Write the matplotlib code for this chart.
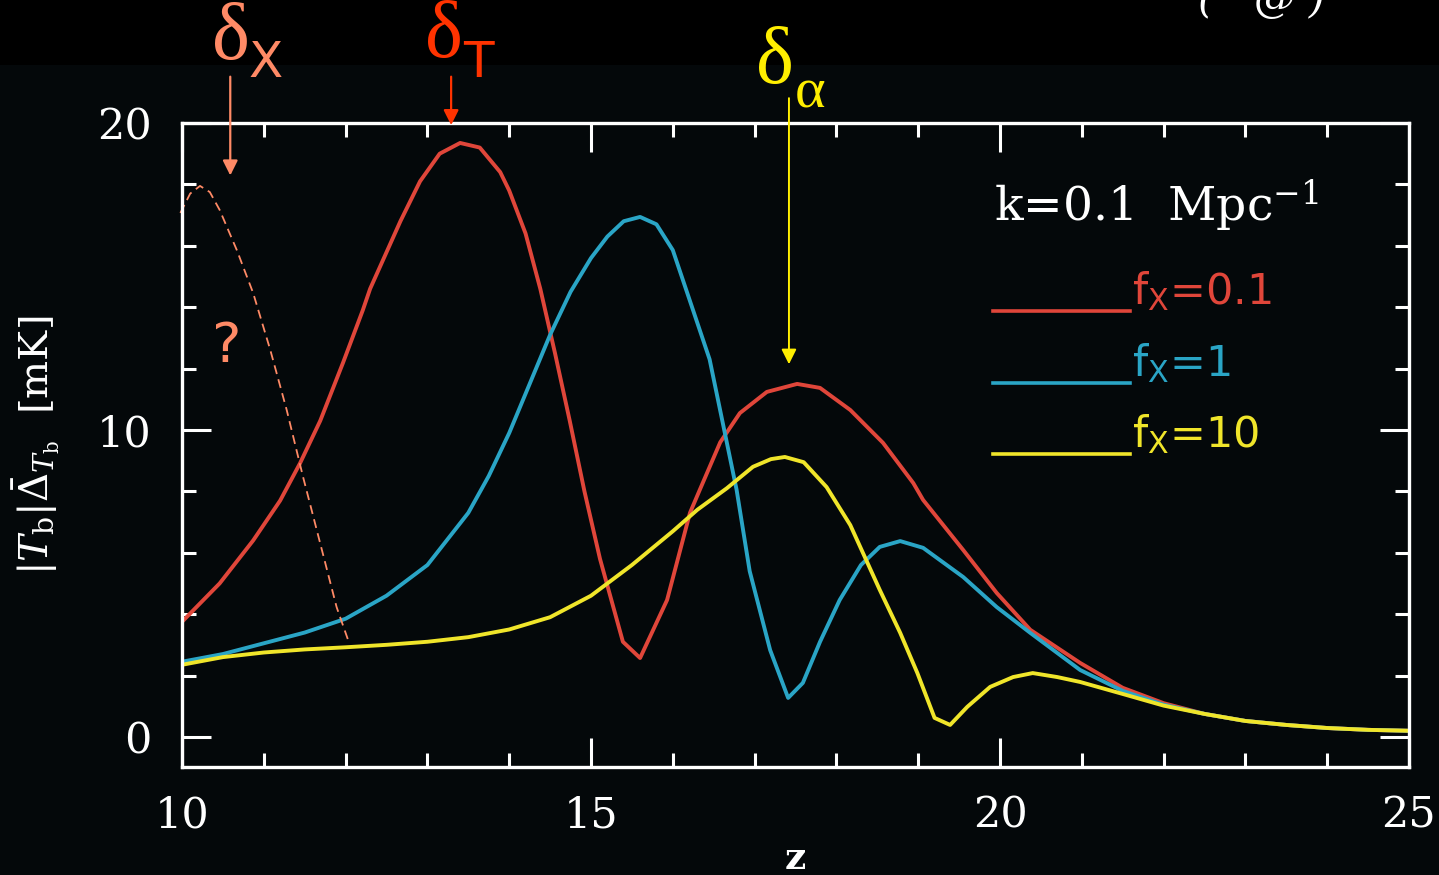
import matplotlib
matplotlib.use("Agg")
import matplotlib.pyplot as plt
from matplotlib.ticker import MultipleLocator
from matplotlib.patches import Rectangle

plt.rcParams['mathtext.fontset'] = 'dejavuserif'

# fx = 0.1 (red)
z_red = [10.0, 10.46, 10.87, 11.2, 11.44, 11.69, 11.97, 12.21, 12.3, 12.67, 12.91,
         13.15, 13.4, 13.64, 13.89, 14.0, 14.2, 14.38, 14.56, 14.74, 14.92, 15.11, 15.39,
         15.6, 15.93, 16.21, 16.33, 16.58, 16.82, 17.15, 17.52, 17.8, 18.17, 18.57,
         18.94, 19.06, 19.55, 19.96, 20.37, 20.98, 21.5, 22.0, 22.5, 23.0, 23.5,
         24.0, 24.5, 25.0]
t_red = [3.75, 5.0, 6.4, 7.7, 8.9, 10.3, 12.2, 13.9, 14.6, 16.8, 18.1,
         19.0, 19.35, 19.2, 18.4, 17.8, 16.4, 14.6, 12.5, 10.3, 8.0, 5.8, 3.1,
         2.57, 4.46, 7.3, 8.05, 9.6, 10.55, 11.24, 11.5, 11.37, 10.65, 9.58,
         8.27, 7.72, 6.09, 4.69, 3.49, 2.41, 1.6, 1.1, 0.75, 0.52, 0.39,
         0.29, 0.23, 0.2]

# fx = 1 (blue)
z_blue = [10.0, 10.5, 11.0, 11.5, 12.0, 12.5, 13.0, 13.5, 13.75, 14.0, 14.25, 14.5,
          14.75, 15.0, 15.2, 15.4, 15.6, 15.8, 16.0, 16.21, 16.45, 16.78, 16.94,
          17.19, 17.41, 17.59, 17.8, 18.04, 18.3, 18.53, 18.78, 19.06, 19.55, 19.96,
          20.37, 20.98, 21.5, 22.0, 22.5, 23.0, 23.5, 24.0, 24.5, 25.0]
t_blue = [2.45, 2.7, 3.05, 3.4, 3.85, 4.6, 5.6, 7.3, 8.5, 9.9, 11.5, 13.1,
          14.5, 15.6, 16.3, 16.8, 16.94, 16.7, 15.86, 14.2, 12.3, 8.05, 5.4,
          2.83, 1.27, 1.76, 3.1, 4.46, 5.6, 6.19, 6.38, 6.16, 5.21, 4.23,
          3.39, 2.18, 1.5, 1.05, 0.75, 0.52, 0.39, 0.29, 0.23, 0.2]

# fx = 10 (yellow)
z_yel = [10.0, 10.5, 11.0, 11.5, 12.0, 12.5, 13.0, 13.5, 14.0, 14.5, 15.0, 15.5,
         16.0, 16.3, 16.66, 16.98, 17.2, 17.37, 17.6, 17.88, 18.17, 18.53, 18.78, 18.99,
         19.2, 19.39, 19.6, 19.88, 20.16, 20.4, 20.7, 20.98, 21.5, 22.0, 22.5,
         23.0, 23.5, 24.0, 24.5, 25.0]
t_yel = [2.35, 2.6, 2.75, 2.85, 2.92, 3.0, 3.1, 3.25, 3.5, 3.9, 4.6, 5.6,
         6.7, 7.4, 8.1, 8.8, 9.05, 9.12, 8.95, 8.14, 6.9, 4.79, 3.39, 2.08,
         0.62, 0.39, 0.98, 1.63, 1.95, 2.08, 1.95, 1.79, 1.4, 1.02, 0.75,
         0.52, 0.39, 0.29, 0.23, 0.2]

# speculative delta_x curve (dashed)
z_dx = [9.98, 10.1, 10.22, 10.34, 10.46, 10.67, 10.87, 11.08, 11.28, 11.48, 11.69, 11.89, 12.03]
t_dx = [17.07, 17.7, 17.95, 17.75, 17.17, 15.86, 14.46, 12.6, 10.65, 8.47, 6.3, 4.23, 3.16]

labels = ['0.1', '1', '10']
colors = ['#e0463a', '#2aa5c6', '#f0e52a']
bg = '#04080a'
salmon = '#ff8a66'

fig = plt.figure(figsize=(14.39, 8.75), dpi=100, facecolor=bg)
fig.add_artist(Rectangle((0, 1 - 65/875), 1, 65/875, transform=fig.transFigure,
                         facecolor='black', edgecolor='none', zorder=0))
ax = fig.add_axes([182/1439, 108/875, 1227/1439, 644/875])
ax.set_facecolor(bg)

for z, t, c in zip([z_red, z_blue, z_yel], [t_red, t_blue, t_yel], colors):
    ax.plot(z, t, color=c, lw=2.8)
ax.plot(z_dx, t_dx, color=salmon, lw=1.3, ls=(0, (5, 3)), clip_on=False)

ax.set_xlim(10, 25)
ax.set_ylim(-0.98, 20)
ax.xaxis.set_major_locator(MultipleLocator(5))
ax.xaxis.set_minor_locator(MultipleLocator(1))
ax.yaxis.set_major_locator(MultipleLocator(10))
ax.yaxis.set_minor_locator(MultipleLocator(2))
ax.tick_params(which='both', direction='in', top=True, right=True, colors='white', width=2.2)
ax.tick_params(which='major', length=21, pad=20, labelsize=31)
ax.tick_params(which='minor', length=10)
ax.tick_params(axis='y', pad=22)
for lab in ax.get_xticklabels() + ax.get_yticklabels():
    lab.set_family('DejaVu Serif')
for s in ax.spines.values():
    s.set_color('white')
    s.set_linewidth(2.4)

ax.set_xlabel('z', color='white', fontsize=27, family='DejaVu Serif', fontweight='bold', labelpad=2)
ax.set_ylabel(r'$|T_{\rm b}|\bar{\Delta}_{T_{\rm b}}$  [mK]', color='white', fontsize=29,
              family='DejaVu Serif', labelpad=26)

# legend-like text
ax.text(0.662, 0.872, r'k=0.1  Mpc$^{-1}$', transform=ax.transAxes, color='white',
        fontsize=34, family='DejaVu Serif', va='center')
for i, (lab, c) in enumerate(zip(labels, colors)):
    yy = 0.708 - i * 0.111
    ax.plot([0.661, 0.773], [yy, yy], transform=ax.transAxes, color=c, lw=2.6)
    ax.text(0.774, yy - 0.004, r'f$_{\mathsf{X}}$=' + lab, transform=ax.transAxes, color=c,
            fontsize=31, family='DejaVu Sans', va='bottom')

# annotations
ax.annotate('', xy=(10.59, 18.2), xytext=(10.59, 21.6), annotation_clip=False,
            arrowprops=dict(arrowstyle='-|>,head_width=0.45,head_length=0.9', color=salmon, lw=1.6))
ax.annotate('', xy=(13.29, 19.84), xytext=(13.29, 21.6), annotation_clip=False,
            arrowprops=dict(arrowstyle='-|>,head_width=0.45,head_length=0.9', color='#ff3300', lw=1.6))
ax.annotate('', xy=(17.42, 12.05), xytext=(17.42, 20.9), annotation_clip=False,
            arrowprops=dict(arrowstyle='-|>,head_width=0.45,head_length=0.9', color='#ffee00', lw=1.4))

fig.text(231/1439, 1 - 40/875, 'δ', color=salmon, fontsize=58, family='Liberation Serif', ha='center', va='center')
fig.text(266/1439, 1 - 63/875, 'X', color=salmon, fontsize=36, family='DejaVu Sans', ha='center', va='center')
fig.text(444/1439, 1 - 38/875, 'δ', color='#ff3300', fontsize=58, family='Liberation Serif', ha='center', va='center')
fig.text(478/1439, 1 - 63/875, 'T', color='#ff3300', fontsize=36, family='DejaVu Sans', ha='center', va='center')
fig.text(775/1439, 1 - 63/875, 'δ', color='#ffee00', fontsize=58, family='Liberation Serif', ha='center', va='center')
fig.text(810/1439, 1 - 93/875, 'α', color='#ffee00', fontsize=42, family='Liberation Serif', ha='center', va='center')
ax.text(10.55, 12.7, '?', color=salmon, fontsize=40, family='DejaVu Sans', ha='center', va='center')

fig.text(1262/1439, 1.0, '(   @ )', color='white', fontsize=30, family='DejaVu Serif',
         style='italic', ha='center', va='center')

fig.savefig('out.png', dpi=100, facecolor=bg)
